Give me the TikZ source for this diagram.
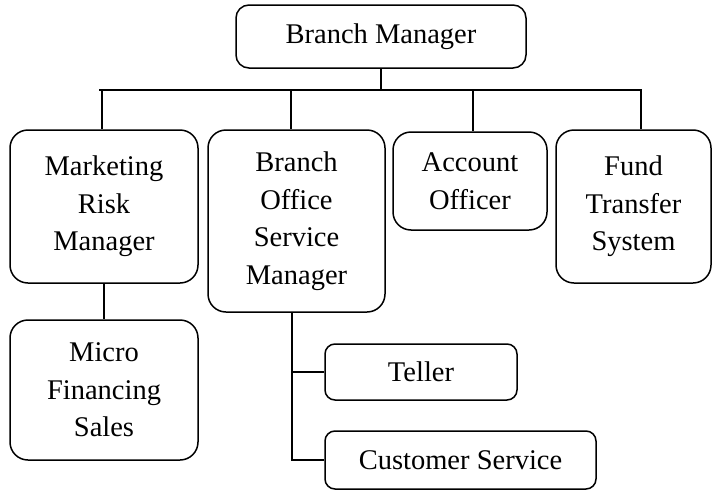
\documentclass[tikz,border=0pt]{standalone}
\usepackage{fontspec}
\setmainfont{Liberation Serif}
\usetikzlibrary{positioning}

\begin{document}
\begin{tikzpicture}[x=1pt, y=-1pt, line width=1.5pt,
  post/.style={draw, rounded corners=18pt, align=center, inner sep=0pt,
    font=\fontsize{28.5}{37.5}\selectfont},
  small post/.style={post, rounded corners=10pt}]
  \useasboundingbox (0,0) rectangle (712,490);

  % TOP: the head of the branch
  \node[post, rounded corners=13pt, minimum width=290, minimum height=63] (bm) at (381, 36.5) {Branch Manager};

  % SECOND ROW: the four posts under him
  \node[post, minimum width=188, minimum height=153] (mrm) at (104, 206.5) {Marketing\\Risk\\Manager};
  \node[post, minimum width=177, minimum height=182] (bosm) at (296.5, 221) {Branch\\Office\\Service\\Manager};
  \node[post, minimum width=154, minimum height=98] (ao) at (470, 181) {Account\\Officer};
  \node[post, minimum width=155, minimum height=153] (fts) at (633.5, 206.5) {Fund\\Transfer\\System};

  % THIRD ROW
  \node[post, minimum width=188, minimum height=140] (mfs) at (104, 390) {Micro\\Financing\\Sales};
  \node[small post, minimum width=192, minimum height=56] (teller) at (421, 372) {Teller};
  \node[small post, minimum width=271, minimum height=58] (cs) at (460.5, 460) {Customer Service};

  % Bus under the branch manager
  \coordinate (busL) at (99, 90);
  \coordinate (busR) at (642, 90);
  \draw (busL) -- (busR);
  \draw (bm.south) -- (bm.south |- busL);

  % Drops from the bus
  \foreach \x/\n in {102/mrm, 291/bosm, 473/ao, 641/fts} {
    \coordinate (drop-\n) at (\x, 90);
    \draw (drop-\n) -- (drop-\n |- \n.north);
  }

  % Marketing down to micro financing
  \draw (mrm.south) -- (mfs.north);

  % Trunk from the office manager
  \coordinate (trunk) at (292, 460);
  \draw (trunk |- bosm.south) -- (trunk) -- (cs.west);
  \draw (trunk |- teller.west) -- (teller.west);
\end{tikzpicture}
\end{document}
